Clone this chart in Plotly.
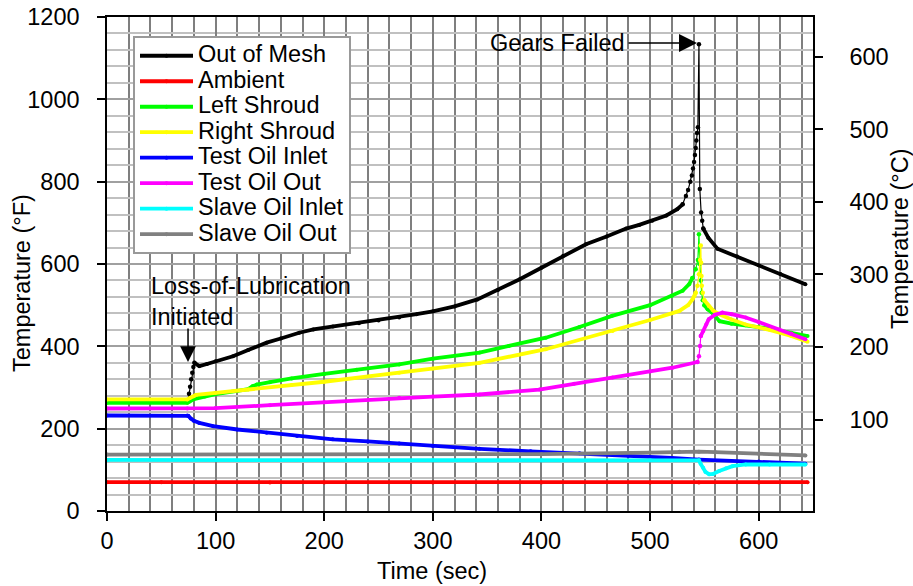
import plotly.graph_objects as go

# ---------------- data ----------------
mesh_t = [0, 20, 40, 60, 74.5, 75.5, 76.5, 77.5, 78.5, 79.5, 80.5, 85, 92, 100, 116, 130, 147, 160, 177,
          190, 208, 232, 250, 269, 285, 300, 320, 341, 360, 380, 400, 420, 441, 460, 478, 490, 502, 515,
          525, 530, 533, 535, 537, 538.5, 539.5, 540.5, 541.3, 542, 542.6, 543.2, 544, 545, 545.8, 547,
          548, 549, 553.6, 562, 580, 600, 620, 643]
mesh_v = [266, 266, 266, 266, 268, 285, 302, 320, 336, 350, 360, 352, 357, 364, 376, 391, 409, 419, 433,
          441, 448, 456, 463, 470, 478, 485, 497, 514, 537, 563, 591, 620, 648, 667, 686, 695, 705, 718,
          733, 745, 765, 780, 800, 815, 832, 848, 865, 882, 900, 918, 932, 1134, 782, 725,
          705, 686, 664, 637, 618, 597, 576, 551]

amb_t = [0, 50, 100, 150, 200, 300, 400, 500, 545, 600, 645]
amb_v = [70, 70, 70, 69, 69, 69, 69, 69, 69, 69, 70]

lsh_t = [0, 74, 76, 80, 90, 100, 120, 130, 134, 138, 150, 170, 200, 230, 269, 300, 343, 370, 404, 435,
         465, 500, 520, 530, 536, 539, 542, 544, 545, 545.8, 546.7, 547.5, 548.5, 550, 553, 557, 564,
         575, 588, 610, 630, 645]
lsh_v = [263, 263, 266, 272, 278, 284, 292, 296, 303, 307, 313, 322, 333, 343, 356, 370, 385, 401, 421, 447,
         474, 500, 522, 535, 551, 566, 587, 610, 672, 600, 560, 530, 512, 500, 490, 482, 461,
         455, 451, 443, 433, 425]

rsh_t = [0, 74, 76, 80, 82, 100, 130, 170, 200, 269, 300, 343, 404, 465.5, 500, 527, 535, 539, 541, 542,
         543.6, 545, 546, 546.7, 547, 547.3, 547.6, 548.5, 550, 554, 558, 563.6, 575, 588, 610, 630, 645]
rsh_v = [271, 271, 274, 279, 282, 287, 295, 306, 314, 336, 346, 360, 393, 437, 464, 486, 500, 514, 522, 530,
         547, 575, 610, 645, 603, 571, 547, 530, 512, 498, 487, 478, 465, 453, 440, 425, 411]

toi_t = [0, 74, 75, 77, 80, 85, 97.7, 120, 147, 175, 208, 240, 269, 300, 343, 390, 435, 480, 520, 545, 600, 643]
toi_v = [232, 232, 231, 225, 219, 214, 206, 198, 190, 182, 174, 169, 164, 158, 151, 145, 140, 134, 129, 125, 120, 115]

too_t = [0, 74, 100, 150, 200, 269, 300, 343, 398, 430, 465.5, 500, 520.6, 543.6, 545, 546, 546.7, 549,
         551.7, 554, 559.7, 566.6, 575, 588, 600, 619, 630, 643]
too_v = [249, 249, 250, 257, 264, 275, 278, 283, 295, 309, 324, 339, 348, 362, 376, 401, 425, 437,
         453, 466, 477, 482, 478, 470, 459, 441, 431, 417]

soi_t = [0, 100, 200, 300, 400, 500, 545, 546.5, 548.9, 551, 554.4, 558, 563.6, 570, 575.8, 588, 610, 643]
soi_v = [124, 124, 124, 123, 123, 123, 123, 115, 105, 95, 89, 90, 97, 104, 109, 113, 113, 113]

soo_t = [0, 100, 200, 300, 400, 500, 527, 545, 560, 600, 643]
soo_v = [137, 137, 137, 137, 138, 142, 144, 144, 143, 139, 135]

series_names = ["Out of Mesh", "Ambient", "Left Shroud", "Right Shroud",
                "Test Oil Inlet", "Test Oil Out", "Slave Oil Inlet", "Slave Oil Out"]
series_colors = ["#000000", "#ff0000", "#00ff00", "#ffff00",
                 "#0000ff", "#ff00ff", "#00ffff", "#808080"]
series_t = [mesh_t, amb_t, lsh_t, rsh_t, toi_t, too_t, soi_t, soo_t]
series_v = [mesh_v, amb_v, lsh_v, rsh_v, toi_v, too_v, soi_v, soo_v]

x_ticks = [0, 100, 200, 300, 400, 500, 600]
yF_ticks = [0, 200, 400, 600, 800, 1000, 1200]
yC_ticks = [100, 200, 300, 400, 500, 600]

# ---------------- layout constants ----------------
W, H = 913, 586
M = dict(l=107, r=100, t=17, b=75)
X_RANGE = [0, 650]
Y_RANGE = [0, 1200]
Y2_RANGE = [-26.1, 654.9]
FONT = "Liberation Sans, Arial, sans-serif"
FS = 23.5

px_x = (W - M["l"] - M["r"]) / (X_RANGE[1] - X_RANGE[0])
px_y = (H - M["t"] - M["b"]) / (Y_RANGE[1] - Y_RANGE[0])


def split_runs(t, v):
    """Split a series into runs of gentle (thick line) and steep (thin dotted line) segments."""
    steep = []
    for i in range(len(t) - 1):
        dx = (t[i + 1] - t[i]) * px_x
        dy = abs(v[i + 1] - v[i]) * px_y
        steep.append(dy > 2.5 * dx and dy > 4)
    runs = []
    start = 0
    for i in range(1, len(steep)):
        if steep[i] != steep[i - 1]:
            runs.append((start, i, steep[i - 1]))
            start = i
    runs.append((start, len(steep), steep[-1]))
    return runs


fig = go.Figure()
for name, color, t, v in zip(series_names, series_colors, series_t, series_v):
    first = True
    for s, e, st in split_runs(t, v):
        fig.add_trace(go.Scatter(
            x=t[s:e + 1], y=v[s:e + 1],
            mode="lines+markers",
            name=f"<span style='font-size:{FS}px'>{name}</span>",
            legendgroup=name, showlegend=first,
            line=dict(color=color, width=1.2 if st else 3.8),
            marker=dict(color=color, size=4.5 if st else 4),
            hoverinfo="skip",
        ))
        first = False

# the °C axis is a second scale of the same plot; an empty trace makes Plotly draw it
fig.add_trace(go.Scatter(x=[], y=[], yaxis="y2", showlegend=False, hoverinfo="skip"))

axis_common = dict(
    showline=True, linecolor="black", linewidth=1.5,
    ticks="outside", ticklen=8, tickwidth=1.5, tickcolor="black",
    tickfont=dict(family=FONT, size=FS, color="black"),
    zeroline=False, automargin=False,
)

fig.update_layout(
    width=W, height=H,
    margin=M,
    paper_bgcolor="white", plot_bgcolor="white",
    font=dict(family=FONT, size=FS, color="black"),
    xaxis=dict(range=X_RANGE, tickvals=x_ticks, mirror=True,
               showgrid=True, gridcolor="#7f7f7f", gridwidth=1.5,
               minor=dict(dtick=20, tick0=0, showgrid=True, gridcolor="#7f7f7f", gridwidth=1.5),
               **axis_common),
    yaxis=dict(range=Y_RANGE, tickvals=yF_ticks,
               showgrid=True, gridcolor="#a0a0a0", gridwidth=1.5,
               minor=dict(dtick=40, tick0=0, showgrid=True, gridcolor="#c0c0c0", gridwidth=1.5),
               ticklabelstandoff=13,
               **axis_common),
    yaxis2=dict(range=Y2_RANGE, tickvals=yC_ticks, overlaying="y", side="right",
                showgrid=False, ticklabelstandoff=22, **axis_common),
    showlegend=True,
    legend=dict(x=(133 - M["l"]) / (W - M["l"] - M["r"]), y=(H - M["b"] - 36) / (H - M["t"] - M["b"]),
                xanchor="left", yanchor="top",
                bgcolor="white", bordercolor="#999999", borderwidth=2,
                font=dict(family=FONT, size=17.3, color="black"),
                itemwidth=53, tracegroupgap=0, traceorder="normal"),
)

plot_w = W - M["l"] - M["r"]
plot_h = H - M["t"] - M["b"]
annotations = [
    # axis titles
    dict(text="Time (sec)", xref="paper", yref="paper", x=(432 - M["l"]) / plot_w,
         y=(H - M["b"] - 571) / plot_h, xanchor="center", yanchor="middle", showarrow=False),
    dict(text="Temperature (°F)", xref="paper", yref="paper", x=(22 - M["l"]) / plot_w,
         y=(H - M["b"] - 283) / plot_h, xanchor="center", yanchor="middle", textangle=-90, showarrow=False),
    dict(text="Temperature (°C)", xref="paper", yref="paper", x=(900 - M["l"]) / plot_w,
         y=(H - M["b"] - 239) / plot_h, xanchor="center", yanchor="middle", textangle=-90, showarrow=False),
    # event labels
    dict(text="Gears Failed", x=478.7, y=1137, xref="x", yref="y",
         xanchor="right", yanchor="middle", showarrow=False),
    dict(text="", x=543.2, y=1137, xref="x", yref="y", ax=-70, ay=0,
         showarrow=True, arrowhead=2, arrowsize=2.4, arrowwidth=1.5, arrowcolor="black"),
    dict(text="Loss-of-Lubrication<br>Initiated", x=38.7, y=583, xref="x", yref="y",
         xanchor="left", yanchor="top", align="left", showarrow=False),
    dict(text="", x=74.6, y=362, xref="x", yref="y", ax=0, ay=-35,
         showarrow=True, arrowhead=2, arrowsize=2.1, arrowwidth=1.5, arrowcolor="black"),
]
fig.update_layout(annotations=annotations)

fig.write_html("out.html", config={"displayModeBar": False},
               post_script="document.body.style.margin='0';document.body.style.padding='0';")
